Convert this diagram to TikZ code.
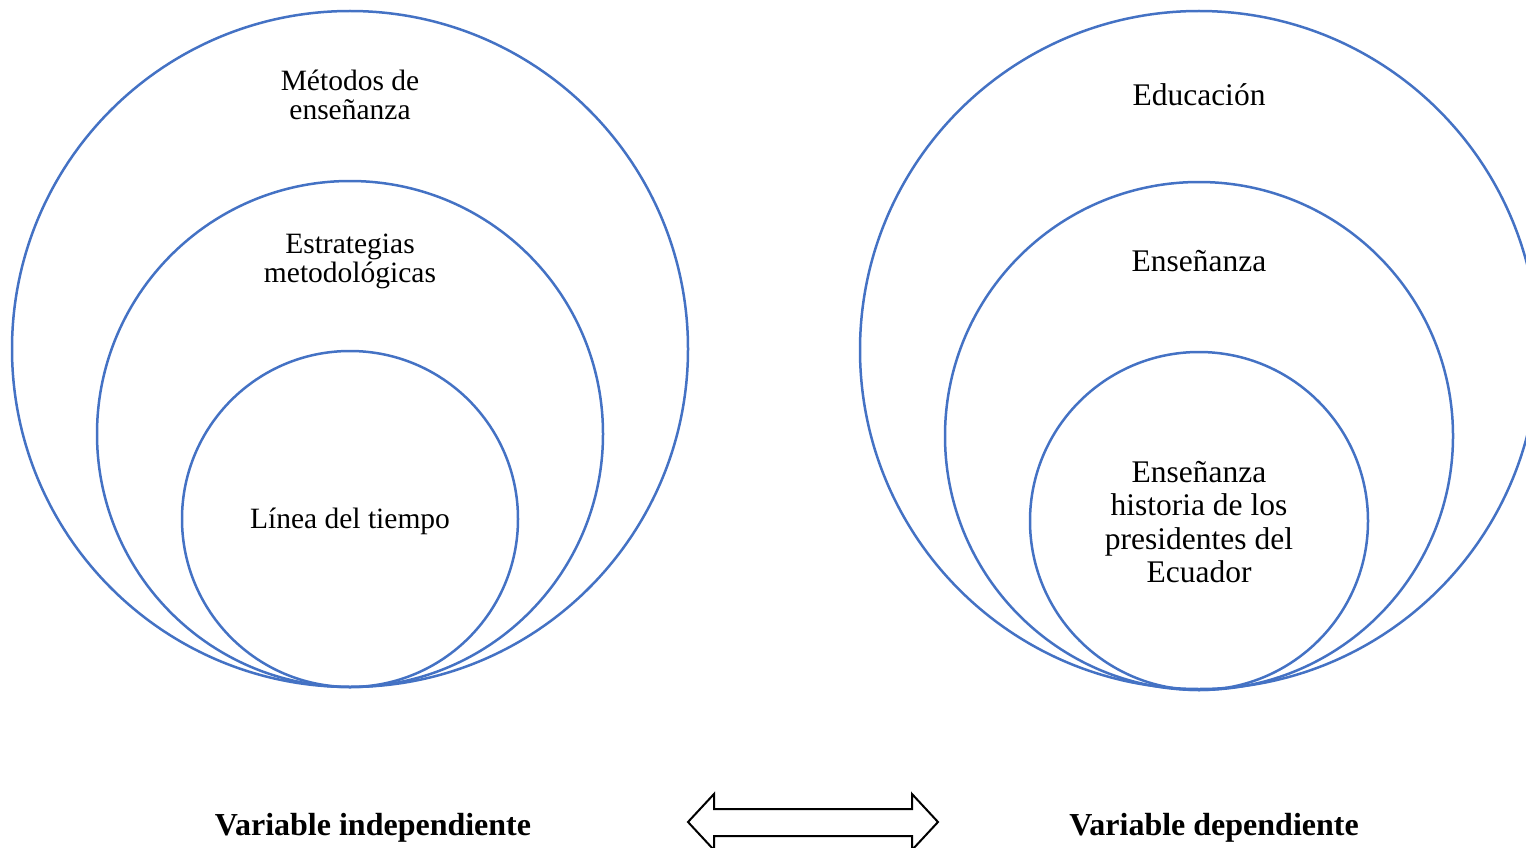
\documentclass[tikz,border=0pt]{standalone}
\usepackage{fontspec}
\setmainfont{Liberation Serif}
\usetikzlibrary{positioning}

\definecolor{ringblue}{RGB}{68,114,196}

\begin{document}
\begin{tikzpicture}[x=1pt, y=-1pt,
    ring/.style={circle, draw=ringblue, line width=2.5pt, inner sep=0pt},
    lbl/.style={align=center, font=\fontsize{29.5}{29}\selectfont},
    lblr/.style={align=center, font=\fontsize{31.5}{33.5}\selectfont},
    vartitle/.style={font=\fontsize{32}{33}\selectfont\bfseries}]
    \useasboundingbox (0,0) rectangle (1526,848);
    \clip (0,0) rectangle (1526,848);

    % variable independiente
    \node[ring, minimum size=676pt] (outerL) at (350,349) {};
    \node[ring, minimum size=506pt] (midL) at (350,434) {};
    \node[ring, minimum size=336pt] (innerL) at (350,519) {};

    \node[lbl] (metodos) at (350,95) {Métodos de\\enseñanza};
    \node[lbl] (estrategias) at (350,261) {Estrategias\\metodológicas};
    \node[lbl] (linea) at (350,521) {Línea del tiempo};

    % variable dependiente
    \node[ring, minimum size=678pt] (outerR) at (1199,350) {};
    \node[ring, minimum size=508pt] (midR) at (1199,436) {};
    \node[ring, minimum size=338pt] (innerR) at (1199,521) {};

    \node[lblr] (educacion) at (1199,95) {Educación};
    \node[lblr] (ensenanza) at (1199,261) {Enseñanza};
    \node[lblr] (historia) at (1199,522) {Enseñanza\\historia de los\\presidentes del\\Ecuador};

    % titulos y flecha
    \node[vartitle] (indep) at (373,828) {Variable independiente};
    \node[vartitle] (dep) at (1214,828) {Variable dependiente};

    \draw[line width=2pt, line join=miter]
      (688,822) -- (714,794) -- (714,809) -- (912,809) -- (912,794)
      -- (938,822) -- (912,850) -- (912,836) -- (714,836) -- (714,850) -- cycle;

\end{tikzpicture}
\end{document}
